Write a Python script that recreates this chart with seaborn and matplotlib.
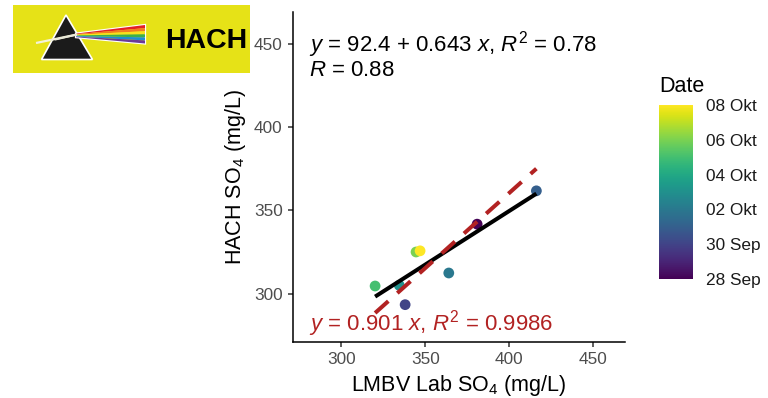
import numpy as np
import pandas as pd
import matplotlib
matplotlib.use("Agg")
import matplotlib.pyplot as plt
import matplotlib.dates as mdates
from matplotlib.patches import Rectangle, Polygon
from matplotlib.colors import Normalize
from matplotlib.cm import ScalarMappable
import seaborn as sns

# Sulfate measurements: LMBV laboratory vs. HACH field photometer
lab_so4 = [416.2, 380.9, 344.5, 346.9, 364.0, 320.1, 334.5, 338.0]
hach_so4 = [361.7, 341.7, 325.0, 325.7, 312.4, 304.6, 305.0, 293.4]
sample_dates = ["2022-10-01", "2022-09-28", "2022-10-06", "2022-10-08",
                "2022-10-02", "2022-10-05", "2022-10-03", "2022-09-30"]

# Regression results shown on the plot
fit_intercept = 92.4
fit_slope = 0.643
fit_r2 = 0.78
fit_r = 0.88
origin_slope = 0.901
origin_r2 = 0.9986

axis_ticks = [300, 350, 400, 450]
date_ticks = ["2022-09-28", "2022-09-30", "2022-10-02",
              "2022-10-04", "2022-10-06", "2022-10-08"]
date_tick_labels = ["28 Sep", "30 Sep", "02 Okt", "04 Okt", "06 Okt", "08 Okt"]

sns.set_theme(style="ticks")
plt.rcParams["font.family"] = ["Liberation Sans", "DejaVu Sans"]
plt.rcParams["mathtext.fontset"] = "custom"
plt.rcParams["mathtext.rm"] = "Liberation Sans"
plt.rcParams["mathtext.it"] = "Liberation Sans:italic"
plt.rcParams["mathtext.bf"] = "Liberation Sans:bold"
plt.rcParams["mathtext.sf"] = "Liberation Sans"

df = pd.DataFrame({
    "lab": lab_so4,
    "hach": hach_so4,
    "date": mdates.date2num(pd.to_datetime(sample_dates)),
})
tick_nums = mdates.date2num(pd.to_datetime(date_ticks))
norm = Normalize(vmin=df["date"].min(), vmax=df["date"].max())

W, H = 768, 398
fig = plt.figure(figsize=(W / 100, H / 100), dpi=100)
fig.patch.set_facecolor("white")

ax = fig.add_axes([292.7 / W, 1 - 342 / H, 332.3 / W, 330 / H])
ax.set_facecolor("white")

sns.scatterplot(data=df, x="lab", y="hach", hue="date", palette="viridis",
                hue_norm=norm, s=60, linewidth=0, legend=False, ax=ax, zorder=2)

xs = np.array([df["lab"].min(), df["lab"].max()])
ax.plot(xs, fit_intercept + fit_slope * xs, color="black", linewidth=2.9,
        solid_capstyle="butt", zorder=3)
ax.plot(xs, origin_slope * xs, color="#B22222", linewidth=2.9,
        dashes=(4.4, 3.0), dash_capstyle="butt", zorder=4)

ax.set_xlim(271, 469)
ax.set_ylim(271, 469)
ax.set_xticks(axis_ticks)
ax.set_yticks(axis_ticks)
for side in ("top", "right"):
    ax.spines[side].set_visible(False)
for side in ("left", "bottom"):
    ax.spines[side].set_color("black")
    ax.spines[side].set_linewidth(1.1)
ax.tick_params(axis="both", length=3.9, width=1.1, color="#333333",
               labelcolor="#4D4D4D", labelsize=12.4, pad=3.3)

ax.set_xlabel("LMBV Lab SO$_4$ (mg/L)", fontsize=15.5, color="black", va="baseline")
ax.xaxis.set_label_coords(0.5, -0.148)
ax.set_ylabel("HACH SO$_4$ (mg/L)", fontsize=15.5, color="black")
ax.yaxis.set_label_coords(-0.134, 0.5)

ax.text(280.8, 445.4,
        f"$y$ = {fit_intercept} + {fit_slope} $x$, $R^2$ = {fit_r2}",
        fontsize=16, color="black", va="baseline", ha="left")
ax.text(280.8, 430.6, f"$R$ = {fit_r}",
        fontsize=16, color="black", va="baseline", ha="left")
ax.text(280.8, 278.0,
        f"$y$ = {origin_slope} $x$, $R^2$ = {origin_r2}",
        fontsize=16, color="#B22222", va="baseline", ha="left")

# Colour bar for sampling date
cax = fig.add_axes([659 / W, 1 - 279 / H, 34 / W, 174 / H])
cb = fig.colorbar(ScalarMappable(norm=norm, cmap="viridis"), cax=cax)
cb.outline.set_visible(False)
cb.set_ticks(tick_nums)
cb.set_ticklabels(date_tick_labels)
cax.tick_params(axis="y", direction="in", length=6.5, width=0.8, color="white",
                left=True, right=True, labelleft=False, labelright=True,
                labelsize=12.4, labelcolor="#1A1A1A", pad=9)
cax.text(0, 1.0764, "Date", transform=cax.transAxes, fontsize=15.5,
         ha="left", va="baseline", color="black")

# HACH logo
lax = fig.add_axes([0, 0, 1, 1], zorder=10)
lax.set_xlim(0, W)
lax.set_ylim(H, 0)
lax.axis("off")
lax.patch.set_alpha(0)
lax.add_patch(Rectangle((13, 5), 237, 68, facecolor="#E6E217", edgecolor="none"))
lax.plot([36, 77], [43, 34.5], color="#F4F2D8", linewidth=1.6, solid_capstyle="butt")
lax.add_patch(Polygon([(66, 15), (41.5, 59.5), (92.5, 59.5)], closed=True,
                      facecolor="#1B1B1B", edgecolor="white", linewidth=1.2))
lax.plot([55, 77], [39.6, 34.5], color="#E8E8D8", linewidth=1.4, solid_capstyle="butt")
beam_colors = ["#E41F26", "#F47B20", "#F9E11C", "#3DB049", "#1E8ED3", "#6B3A98"]
x0, x1 = 76, 145
yl = np.linspace(33.6, 37.2, len(beam_colors) + 1)
yr = np.linspace(25.0, 43.5, len(beam_colors) + 1)
lax.add_patch(Polygon([(x0, yl[0]), (x1, yr[0]), (x1, yr[-1]), (x0, yl[-1])],
                      closed=True, facecolor="none", edgecolor="white", linewidth=1.6))
for i, c in enumerate(beam_colors):
    lax.add_patch(Polygon([(x0, yl[i]), (x1, yr[i]), (x1, yr[i + 1]), (x0, yl[i + 1])],
                          closed=True, facecolor=c, edgecolor="none"))
lax.text(165, 48, "HACH", fontsize=20.5, fontweight="bold", color="black",
         ha="left", va="baseline")

fig.savefig("out.png", dpi=100)
